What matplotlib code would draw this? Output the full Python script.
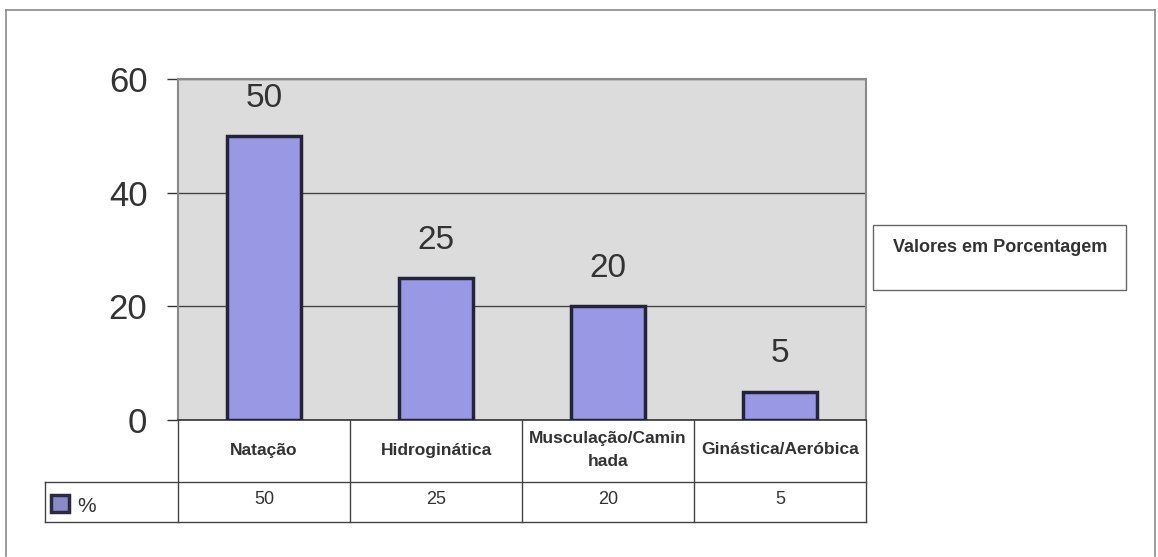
import matplotlib
matplotlib.use("Agg")
import matplotlib.pyplot as plt
from matplotlib.patches import Rectangle
from matplotlib.lines import Line2D
import matplotlib.transforms as mtransforms

# ---- data ----
categories = ["Natação", "Hidroginática", "Musculação/Camin\nhada", "Ginástica/Aeróbica"]
values = [50, 25, 20, 5]
series_name = "%"
legend_title = "Valores em Porcentagem"
yticks = [0, 20, 40, 60]

W, H = 1158, 557
plt.rcParams['font.family'] = ['Liberation Sans', 'DejaVu Sans']
fig = plt.figure(figsize=(W / 100, H / 100), dpi=100)
fig.patch.set_facecolor('white')

def fx(px):
    return px / W

def fy(py):
    return (H - py) / H

L, R, T, B = 178, 866, 79, 420
ax = fig.add_axes([fx(L), fy(B), fx(R) - fx(L), fy(T) - fy(B)])
ax.set_facecolor('#dcdcdc')

bar_color = '#9898e4'
edge_color = '#23233a'
x = list(range(len(values)))
bars = ax.bar(x, values, width=0.43, color=bar_color, edgecolor=edge_color,
              linewidth=2.5, zorder=3)
ax.set_xlim(-0.5, len(values) - 0.5)
ax.set_ylim(0, 60)
ax.set_yticks(yticks)
ax.set_yticklabels([str(t) for t in yticks], fontsize=25, color='#333333')
ax.tick_params(axis='y', length=8, width=1, color='#333333', pad=14)
ax.set_xticks([])
ax.yaxis.grid(True, color='#444444', linewidth=1, zorder=1)
ax.set_axisbelow(True)
for s in ['left', 'right', 'top']:
    ax.spines[s].set_color('#8a8a8a')
    ax.spines[s].set_linewidth(1.5)
ax.spines['bottom'].set_color('#333333')
ax.spines['bottom'].set_linewidth(1.2)

for xi, v in zip(x, values):
    ax.annotate(str(v), (xi, v), xytext=(0, 16), textcoords='offset points',
                ha='center', va='bottom', fontsize=24, color='#333333')

# ---- data table below ----
blend = mtransforms.blended_transform_factory(ax.transData, fig.transFigure)
row1_top, row1_bot, row2_bot = 420, 482, 522
left_cell = 45
line_kw = dict(color='#444444', linewidth=1.0)
n = len(values)
for i in range(n + 1):
    xb = i - 0.5
    fig.add_artist(Line2D([xb, xb], [fy(row1_top), fy(row2_bot)], transform=blend, **line_kw))
fig.add_artist(Line2D([fx(left_cell), fx(R)], [fy(row1_bot), fy(row1_bot)], transform=fig.transFigure, **line_kw))
fig.add_artist(Line2D([fx(left_cell), fx(R)], [fy(row2_bot), fy(row2_bot)], transform=fig.transFigure, **line_kw))
fig.add_artist(Line2D([fx(left_cell), fx(left_cell)], [fy(row1_bot), fy(row2_bot)], transform=fig.transFigure, **line_kw))

tab_fs = 12.5
for xi, c, v in zip(x, categories, values):
    fig.text(xi, fy((row1_top + row1_bot) / 2 - 1), c, transform=blend, ha='center', va='center',
             fontsize=tab_fs, color='#333333', fontweight='bold', linespacing=1.6)
    fig.text(xi, fy((row1_bot + row2_bot) / 2 - 3), str(v), transform=blend, ha='center', va='center',
             fontsize=13, color='#333333')

# legend key in the table
fig.add_artist(Rectangle((fx(51), fy(512)), fx(69) - fx(51), fy(495) - fy(512),
                         transform=fig.transFigure, facecolor='#8a8ac8', edgecolor='#2a2a40', linewidth=2.5))
fig.text(fx(77), fy(506), series_name, ha='left', va='center', fontsize=15, color='#333333')

# legend box at right
fig.add_artist(Rectangle((fx(873), fy(290)), fx(1126) - fx(873), fy(225) - fy(290),
                         transform=fig.transFigure, facecolor='white', edgecolor='#666666', linewidth=1.0))
fig.text(fx(893), fy(248), legend_title, ha='left', va='center', fontsize=13, color='#333333',
         fontweight='bold')

# outer frame
frame_kw = dict(color='#8a8a8a', linewidth=1.2, transform=fig.transFigure)
fig.add_artist(Line2D([fx(6), fx(1155)], [fy(10), fy(10)], **frame_kw))
fig.add_artist(Line2D([fx(6), fx(6)], [fy(10), fy(556)], **frame_kw))
fig.add_artist(Line2D([fx(1155), fx(1155)], [fy(10), fy(556)], **frame_kw))

fig.savefig('out.png', dpi=100, facecolor='white')
